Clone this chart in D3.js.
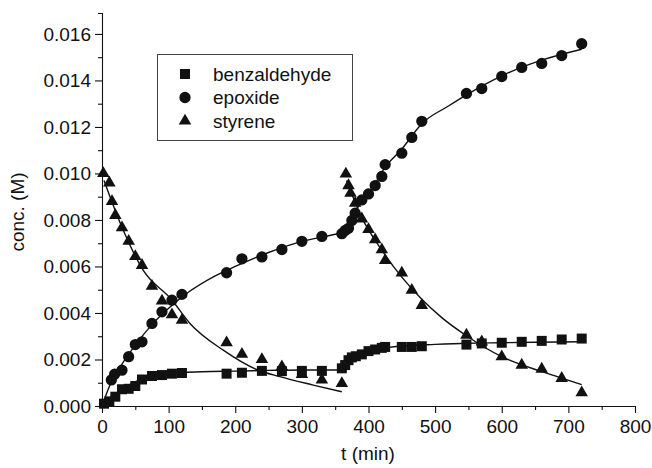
<!DOCTYPE html>
<html>
<head>
<meta charset="utf-8">
<script src="https://cdn.jsdelivr.net/npm/d3@7"></script>
<style>
  body { margin: 0; background: #fff; }
  text { font-family: "Liberation Sans", Arial, Helvetica, sans-serif; fill: #111; }
</style>
</head>
<body>
<div id="chart"></div>
<script>
// measured points, t (min) and conc. (M)
var benzT = [3, 11, 20, 30, 40, 50, 60, 75, 90, 105, 120, 187, 210, 240, 270, 300, 330, 360,
             365, 370, 375, 381, 390, 400, 410, 420, 425, 450, 465, 480, 547, 570, 600, 630, 660, 690, 720];
var benzC = [0.00010, 0.00020, 0.00040, 0.00072, 0.00074, 0.00086, 0.00114, 0.00129, 0.00133, 0.00139, 0.00142,
             0.00139, 0.00143, 0.00151, 0.00150, 0.00151, 0.00151, 0.00162,
             0.00176, 0.00197, 0.00209, 0.00214, 0.00222, 0.00236, 0.00243, 0.00250, 0.00254, 0.00254,
             0.00254, 0.00257, 0.00264, 0.00269, 0.00272, 0.00276, 0.00280, 0.00286, 0.00290];

var epoxT = [14, 19, 30, 40, 50, 60, 75, 90, 105, 120, 187, 210, 240, 270, 300, 330, 360,
             365, 370, 375, 380, 390, 400, 410, 420, 425, 450, 465, 480, 547, 570, 600, 630, 660, 690, 720];
var epoxC = [0.00112, 0.00137, 0.00154, 0.00212, 0.00264, 0.00276, 0.00355, 0.00405, 0.00455, 0.00480,
             0.00573, 0.00633, 0.00641, 0.00673, 0.00708, 0.00729, 0.00741,
             0.00755, 0.00764, 0.00798, 0.00829, 0.00886, 0.00912, 0.00948, 0.00987, 0.01038, 0.01087,
             0.01155, 0.01224, 0.01344, 0.01365, 0.01417, 0.01456, 0.01473, 0.01507, 0.01558];

var styrT = [2, 11, 15, 20, 30, 40, 50, 60, 75, 90, 105, 120, 187, 210, 240, 270, 300, 330, 360,
             366, 370, 373, 380, 390, 400, 410, 420, 425, 450, 465, 480, 547, 570, 600, 630, 660, 690, 720];
var styrC = [0.01000, 0.00960, 0.00880, 0.00820, 0.00767, 0.00709, 0.00643, 0.00605, 0.00515, 0.00452,
             0.00393, 0.00369, 0.00272, 0.00223, 0.00200, 0.00169, 0.00136, 0.00112, 0.00097,
             0.00998, 0.00948, 0.00915, 0.00872, 0.00805, 0.00759, 0.00715, 0.00672, 0.00626,
             0.00572, 0.00498, 0.00433, 0.00305, 0.00276, 0.00212, 0.00176, 0.00159, 0.00119, 0.00057];

// fitted curves (two segments each, before / after t = 360)
var benzFitT1 = [0, 10, 20, 40, 60, 80, 100, 150, 200, 250, 300, 360];
var benzFitC1 = [0, 0.00028, 0.00050, 0.00090, 0.00117, 0.00132, 0.00140, 0.00147, 0.00150, 0.00153, 0.00155, 0.00155];
var benzFitT2 = [362, 370, 380, 390, 400, 420, 450, 500, 550, 600, 650, 720];
var benzFitC2 = [0.00170, 0.00190, 0.00208, 0.00220, 0.00232, 0.00247, 0.00258, 0.00265, 0.00270, 0.00272, 0.00274, 0.00276];

var epoxFitT1 = [0, 12, 30, 50, 75, 100, 130, 170, 200, 250, 300, 340, 360];
var epoxFitC1 = [0, 0.00090, 0.00180, 0.00262, 0.00350, 0.00420, 0.00490, 0.00560, 0.00600, 0.00660, 0.00708, 0.00732, 0.00745];
var epoxFitT2 = [360, 370, 380, 390, 400, 425, 450, 480, 520, 547, 600, 660, 720];
var epoxFitC2 = [0.00745, 0.00778, 0.00835, 0.00880, 0.00912, 0.01027, 0.01105, 0.01214, 0.01290, 0.01338, 0.01420, 0.01487, 0.01534];

var styrFitT1 = [3, 30, 62, 104, 132, 182, 232, 267, 317, 360];
var styrFitC1 = [0.00970, 0.00769, 0.00583, 0.00459, 0.00355, 0.00240, 0.00157, 0.00126, 0.00090, 0.00061];
var styrFitT2 = [367, 390, 420, 450, 480, 510, 547, 600, 660, 690, 720];
var styrFitC2 = [0.00970, 0.00810, 0.00670, 0.00554, 0.00459, 0.00380, 0.00302, 0.00212, 0.00148, 0.00120, 0.00092];

var seriesNames = ["benzaldehyde", "epoxide", "styrene"];
var xTicks = [0, 100, 200, 300, 400, 500, 600, 700, 800];
var yTicks = [0, 0.002, 0.004, 0.006, 0.008, 0.010, 0.012, 0.014, 0.016];

var width = 652, height = 468;

var svg = d3.select("#chart").append("svg")
    .attr("width", width)
    .attr("height", height);

var x = d3.scaleLinear().domain([0, 800]).range([102, 635]);
var y = d3.scaleLinear().domain([0, 0.0169]).range([406, 13]);

function zip(ts, cs) {
  return ts.map(function (t, i) { return [t, cs[i]]; });
}

// axes
var xAxis = svg.append("g")
    .attr("transform", "translate(0,406)")
    .call(d3.axisBottom(x).tickValues(xTicks).tickSize(7).tickSizeOuter(0).tickPadding(4));
svg.append("g")
    .attr("transform", "translate(0,406)")
    .call(d3.axisBottom(x).tickValues(d3.range(50, 800, 100)).tickSize(4).tickFormat(""))
    .select(".domain").remove();

var yAxis = svg.append("g")
    .attr("transform", "translate(102,0)")
    .call(d3.axisLeft(y).tickValues(yTicks).tickSize(7).tickSizeOuter(4).tickPadding(4)
      .tickFormat(d3.format(".3f")));
svg.append("g")
    .attr("transform", "translate(102,0)")
    .call(d3.axisLeft(y).tickValues(d3.range(0.001, 0.016, 0.002)).tickSize(4).tickFormat(""))
    .select(".domain").remove();

svg.selectAll(".tick line, .domain").attr("stroke", "#111").attr("stroke-width", 1.1);
xAxis.selectAll("text").style("font-size", "19px").attr("dy", "0.82em");
yAxis.selectAll("text").style("font-size", "19px");

svg.append("text")
    .attr("x", 368).attr("y", 460)
    .attr("text-anchor", "middle")
    .style("font-size", "19px")
    .text("t (min)");

svg.append("text")
    .attr("transform", "translate(24,212) rotate(-90)")
    .attr("text-anchor", "middle")
    .style("font-size", "19px")
    .text("conc. (M)");

// fit lines
var line = d3.line()
    .x(function (d) { return x(d[0]); })
    .y(function (d) { return y(d[1]); })
    .curve(d3.curveMonotoneX);

var fits = [
  zip(benzFitT1, benzFitC1), zip(benzFitT2, benzFitC2),
  zip(epoxFitT1, epoxFitC1), zip(epoxFitT2, epoxFitC2),
  zip(styrFitT1, styrFitC1), zip(styrFitT2, styrFitC2)
];
svg.append("g").selectAll("path")
    .data(fits)
    .enter().append("path")
    .attr("d", line)
    .attr("fill", "none")
    .attr("stroke", "#111")
    .attr("stroke-width", 1.4);

// markers
var shapes = [
  d3.symbol().type(d3.symbolSquare).size(100),
  d3.symbol().type(d3.symbolCircle).size(100),
  d3.symbol().type(d3.symbolTriangle).size(68)
];
var sets = [zip(benzT, benzC), zip(epoxT, epoxC), zip(styrT, styrC)];

sets.forEach(function (pts, k) {
  svg.append("g").selectAll("path")
      .data(pts)
      .enter().append("path")
      .attr("transform", function (d) { return "translate(" + x(d[0]) + "," + y(d[1]) + ")"; })
      .attr("d", shapes[k])
      .attr("fill", "#111");
});

// legend
var legend = svg.append("g");
legend.append("rect")
    .attr("x", 157.5).attr("y", 54.5)
    .attr("width", 195).attr("height", 86)
    .attr("fill", "#fff")
    .attr("stroke", "#444")
    .attr("stroke-width", 1);

seriesNames.forEach(function (name, k) {
  var ly = 74 + k * 23.5;
  legend.append("path")
      .attr("transform", "translate(185," + ly + ")")
      .attr("d", shapes[k])
      .attr("fill", "#111");
  legend.append("text")
      .attr("x", 213).attr("y", ly + 6.5)
      .style("font-size", "19px")
      .text(name);
});
</script>
</body>
</html>
